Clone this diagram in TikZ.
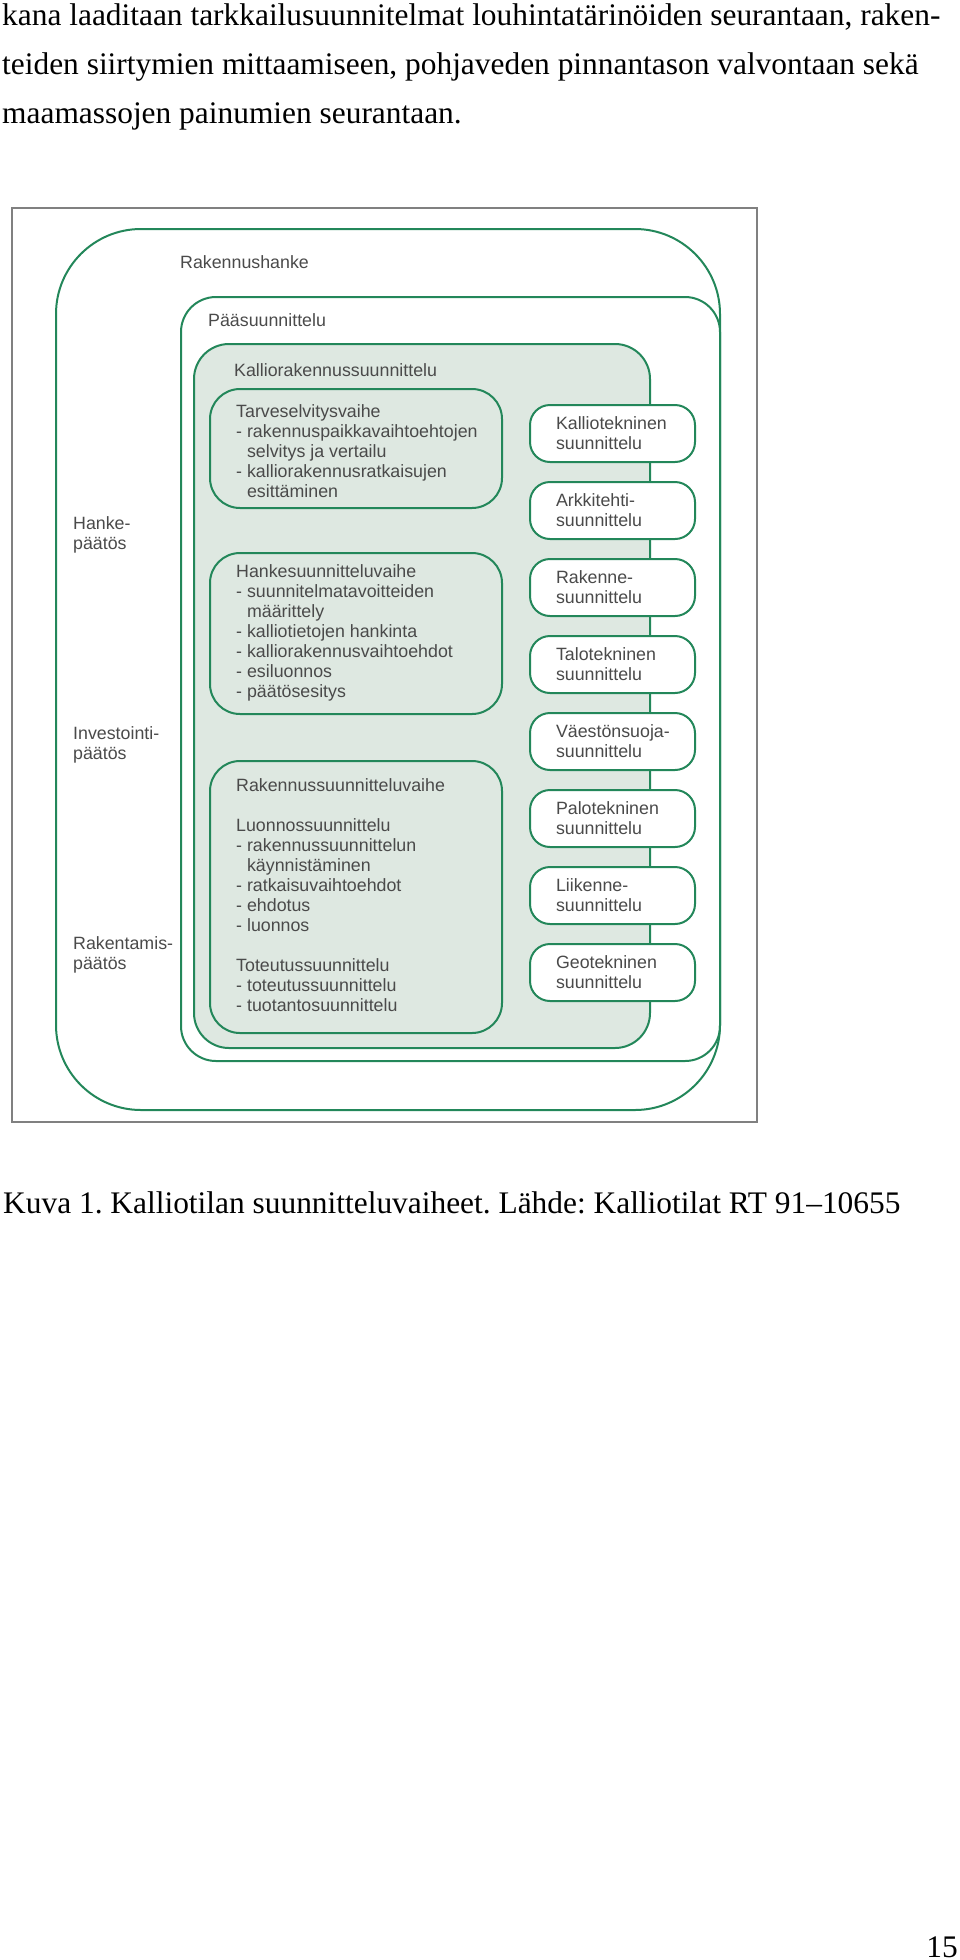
\documentclass[tikz,border=0pt]{standalone}
\usepackage{fontspec}
\setmainfont{Liberation Serif}
\newfontfamily\diagfont{Liberation Sans}
\frenchspacing
\definecolor{kgreen}{HTML}{23875A}
\definecolor{kfill}{HTML}{DEE8E1}
\definecolor{kgray}{HTML}{4A4A4A}
\definecolor{kframe}{HTML}{808080}
\tikzset{
	bodytext/.style = {anchor=base west, inner sep=0pt, font=\fontsize{31.4}{38}\selectfont},
	dtext/.style = {anchor=north west, inner sep=0pt, align=left, text=kgray, font=\diagfont\fontsize{17.8}{20}\selectfont},
	areabox/.style = {draw=kgreen, line width=2pt, anchor=north west, inner sep=0pt},
	phasebox/.style = {areabox, fill=kfill, rounded corners=30pt, minimum width=292pt},
	designbox/.style = {draw=kgreen, line width=2pt, fill=white, rounded corners=20pt, anchor=north west,
		minimum height=57pt, text width=113pt, inner xsep=26pt, inner ysep=0pt, align=left,
		text=kgray, font=\diagfont\fontsize{17.8}{20}\selectfont}
}
\begin{document}
\begin{tikzpicture}[x=1pt, y=-1pt]
	\useasboundingbox (0,0) rectangle (960,1960);
	
	% text above the figure
	\node[bodytext] (line1) at (2,25) {kana laaditaan tarkkailusuunnitelmat louhintatärinöiden seurantaan, raken-};
	\node[bodytext] (line2) at (2,74) {teiden siirtymien mittaamiseen, pohjaveden pinnantason valvontaan sekä};
	\node[bodytext] (line3) at (2,123) {maamassojen painumien seurantaan.};
	
	% frame
	\draw[draw=kframe, line width=1.5pt] (12,208) rectangle (757,1122);
	
	% nested areas
	\node[areabox, rounded corners=85pt, minimum width=664pt, minimum height=881pt] (hanke) at (55,228) {};
	\node[areabox, rounded corners=35pt, minimum width=539pt, minimum height=764pt] (paa) at (180,296) {};
	\node[areabox, fill=kfill, rounded corners=35pt, minimum width=456pt, minimum height=704pt] (kallio) at (193,343) {};
	
	% phases
	\node[phasebox, minimum height=119pt] (tarve) at (209,388) {};
	\node[phasebox, minimum height=161pt] (hankesuun) at (209,552) {};
	\node[phasebox, minimum height=272pt] (rakennussuun) at (209,760) {};
	
	% area labels
	\node[dtext] (hankelabel) at (180,255) {Rakennushanke};
	\node[dtext] (paalabel) at (208,313) {Pääsuunnittelu};
	\node[dtext] (kalliolabel) at (234,363) {Kalliorakennussuunnittelu};
	
	% phase texts
	\node[dtext] (tarvetext) at (236,404) {Tarveselvitysvaihe\\- rakennuspaikkavaihtoehtojen\\\phantom{- }selvitys ja vertailu\\- kalliorakennusratkaisujen\\\phantom{- }esittäminen};
	\node[dtext] (hanketext) at (236,564) {Hankesuunnitteluvaihe\\- suunnitelmatavoitteiden\\\phantom{- }määrittely\\- kalliotietojen hankinta\\- kalliorakennusvaihtoehdot\\- esiluonnos\\- päätösesitys};
	\node[dtext] (rakennustext) at (236,778) {Rakennussuunnitteluvaihe\\[20pt]Luonnossuunnittelu\\- rakennussuunnittelun\\\phantom{- }käynnistäminen\\- ratkaisuvaihtoehdot\\- ehdotus\\- luonnos\\[20pt]Toteutussuunnittelu\\- toteutussuunnittelu\\- tuotantosuunnittelu};
	
	% decisions
	\node[dtext] (hankepaatos) at (73,516) {Hanke-\\päätös};
	\node[dtext] (invpaatos) at (73,726) {Investointi-\\päätös};
	\node[dtext] (rakpaatos) at (73,936) {Rakentamis-\\päätös};
	
	% design fields
	\node[designbox] (kalliotek) at (529,404) {Kalliotekninen\\suunnittelu};
	\node[designbox] (arkkitehti) at (529,481) {\mbox{Arkkitehti-}\\suunnittelu};
	\node[designbox] (rakenne) at (529,558) {\mbox{Rakenne-}\\suunnittelu};
	\node[designbox] (talotek) at (529,635) {Talotekninen\\suunnittelu};
	\node[designbox] (vaestonsuoja) at (529,712) {\mbox{Väestönsuoja-}\\suunnittelu};
	\node[designbox] (palotek) at (529,789) {Palotekninen\\suunnittelu};
	\node[designbox] (liikenne) at (529,866) {\mbox{Liikenne-}\\suunnittelu};
	\node[designbox] (geotek) at (529,943) {Geotekninen\\suunnittelu};
	
	% caption and page number
	\node[bodytext] (caption) at (3,1213) {Kuva 1. Kalliotilan suunnitteluvaiheet. Lähde: Kalliotilat RT 91–10655};
	\node[bodytext, anchor=base east] (pagenum) at (958,1957) {15};
	
\end{tikzpicture}
\end{document}
